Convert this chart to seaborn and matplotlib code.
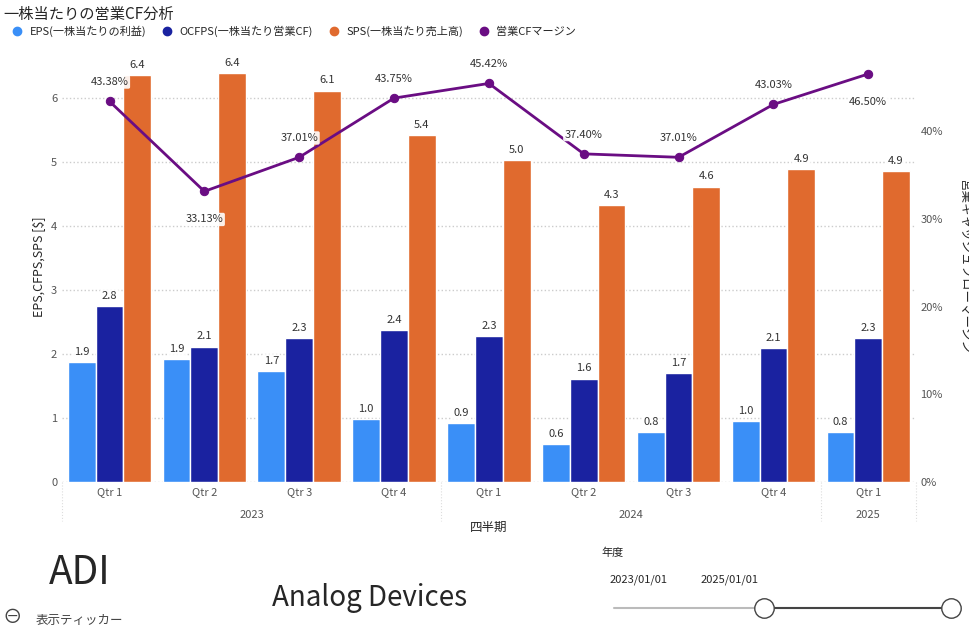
import pandas as pd
import seaborn as sns
import matplotlib.pyplot as plt
import matplotlib.transforms as mtransforms

# Chart data
QUARTERS = ["Qtr 1", "Qtr 2", "Qtr 3", "Qtr 4", "Qtr 1", "Qtr 2", "Qtr 3", "Qtr 4", "Qtr 1"]
YEARS = ["2023", "2024", "2025"]
EPS = [1.88, 1.92, 1.74, 0.99, 0.93, 0.60, 0.78, 0.96, 0.78]
OCFPS = [2.75, 2.12, 2.26, 2.38, 2.29, 1.62, 1.71, 2.10, 2.26]
SPS = [6.36, 6.40, 6.12, 5.43, 5.03, 4.33, 4.62, 4.90, 4.86]
MARGIN = [43.38, 33.13, 37.01, 43.75, 45.42, 37.40, 37.01, 43.03, 46.50]

SERIES = ["EPS(一株当たりの利益)", "OCFPS(一株当たり営業CF)", "SPS(一株当たり売上高)"]
COLORS = ["#3a8ff7", "#1a22a0", "#e06a2e"]
LINE_COLOR = "#6a0d83"


def build_frame():
    """Build long-form data for the grouped bars."""
    rows = []
    for i in range(len(QUARTERS)):
        for name, vals in zip(SERIES, [EPS, OCFPS, SPS]):
            rows.append({"idx": i, "series": name, "value": vals[i]})
    return pd.DataFrame(rows)


def main():
    sns.set_theme(style="white")
    plt.rcParams['font.family'] = ['Noto Sans CJK JP', 'DejaVu Sans']

    df = build_frame()
    fig = plt.figure(figsize=(9.7, 6.28), dpi=100)
    ax = fig.add_axes([0.064, 0.232, 0.88, 0.688])

    sns.barplot(data=df, x="idx", y="value", hue="series", palette=COLORS, saturation=1,
                width=0.88, ax=ax, legend=False)
    for container, vals in zip(ax.containers, [EPS, OCFPS, SPS]):
        for bar, v in zip(container, vals):
            ax.text(bar.get_x() + bar.get_width() / 2, v + 0.08, f"{v:.1f}",
                    ha="center", va="bottom", fontsize=8, color="#333333",
                    bbox=dict(boxstyle="round,pad=0.15", fc="white", ec="none", alpha=0.9))

    ax.set_ylim(0, 6.75)
    ax.set_yticks(range(0, 7))
    ax.tick_params(axis="y", labelsize=8, colors="#555555", length=0)
    ax.set_ylabel("EPS,CFPS,SPS [$]", fontsize=9)
    ax.set_xticks(range(len(QUARTERS)))
    ax.set_xticklabels(QUARTERS, fontsize=8, color="#555555")
    ax.tick_params(axis="x", length=0)
    ax.set_xlabel("")
    ax.set_xlim(-0.5, len(QUARTERS) - 0.5)
    ax.grid(axis="y", linestyle=":", color="#cccccc")
    for s in ax.spines.values():
        s.set_visible(False)

    # year labels below the quarters
    trans = mtransforms.blended_transform_factory(ax.transData, ax.transAxes)
    for x, yr in zip([1.5, 5.5, 8], YEARS):
        ax.text(x, -0.065, yr, transform=trans, ha="center", va="top", fontsize=8, color="#555555")
    for x in [-0.5, 3.5, 7.5, 8.5]:
        ax.plot([x, x], [0, -0.09], transform=trans, color="#dddddd", lw=0.8, ls=":", clip_on=False)
    ax.text(0.5, -0.09, "四半期", transform=ax.transAxes, ha="center", va="top", fontsize=9)

    # operating CF margin on the secondary axis
    ax2 = ax.twinx()
    sns.lineplot(x=list(range(len(QUARTERS))), y=MARGIN, color=LINE_COLOR, lw=2,
                 marker="o", markersize=6, markeredgecolor=LINE_COLOR, ax=ax2)
    for i, m in enumerate(MARGIN):
        dy = -3.2 if i == 1 or i == 8 else 2.2
        ax2.text(i, m + dy, f"{m:.2f}%", ha="center", va="center", fontsize=8, color="#333333",
                 bbox=dict(boxstyle="round,pad=0.15", fc="white", ec="none", alpha=0.9))
    ax2.set_ylim(0, 49.2)
    ax2.set_yticks([0, 10, 20, 30, 40])
    ax2.set_yticklabels(["0%", "10%", "20%", "30%", "40%"])
    ax2.tick_params(axis="y", labelsize=8, colors="#555555", length=0)
    ax2.set_ylabel("営業キャッシュフローマージン", fontsize=9, rotation=270, labelpad=20)
    for s in ax2.spines.values():
        s.set_visible(False)

    # title and legend
    fig.text(0.003, 0.99, "一株当たりの営業CF分析", fontsize=11, va="top")
    handles = [plt.Line2D([], [], marker="o", ls="", color=c, markersize=6) for c in COLORS + [LINE_COLOR]]
    fig.legend(handles, SERIES + ["営業CFマージン"], loc="upper left", bbox_to_anchor=(-0.004, 0.975),
               ncol=4, frameon=False, fontsize=8, handletextpad=0.1, columnspacing=0.9)

    # bottom panel texts
    fig.text(0.05, 0.07, "ADI", fontsize=28)
    fig.text(0.28, 0.035, "Analog Devices", fontsize=20)
    fig.text(0.037, 0.006, "表示ティッカー", fontsize=9, color="#444444")
    fig.text(0.003, 0.008, "⊖", fontsize=14, color="#444444")
    fig.text(0.62, 0.115, "年度", fontsize=8)
    fig.text(0.628, 0.073, "2023/01/01", fontsize=8)
    fig.text(0.722, 0.073, "2025/01/01", fontsize=8)
    fig.lines.append(plt.Line2D([0.633, 0.98], [0.032, 0.032], transform=fig.transFigure, color="#bbbbbb", lw=1.5))
    fig.lines.append(plt.Line2D([0.788, 0.98], [0.032, 0.032], transform=fig.transFigure, color="#444444",
                                lw=1.5, marker="o", markersize=14, markerfacecolor="white", markeredgecolor="#444444"))

    plt.savefig("out.png")


if __name__ == "__main__":
    main()
